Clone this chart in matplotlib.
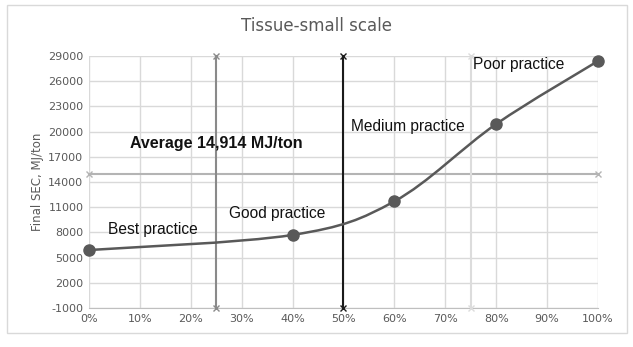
import numpy as np
import matplotlib.pyplot as plt
from matplotlib.path import Path
from matplotlib.patches import PathPatch, Rectangle

plt.rcParams['axes.unicode_minus'] = False

# data
share = [0, 40, 60, 80, 100]                 # percent of mills
sec = [5900, 7700, 11700, 20900, 28400]      # MJ/ton
average = 14914
cuts = [25, 50, 75]
cut_colors = ['#8a8a8a', '#1a1a1a', '#dcdcdc']
labels = ['Best practice', 'Good practice', 'Medium practice', 'Poor practice']
label_pos = [(3.7, 7800), (27.5, 9700), (51.5, 20100), (75.5, 27500)]
yticks = np.arange(-1000, 29001, 3000)
xticks = np.arange(0, 101, 10)

fig = plt.figure(figsize=(6.33, 3.47), dpi=100)
fig.patches.append(Rectangle((0.011, 0.04), 0.979, 0.945, transform=fig.transFigure,
                             fill=False, ec='#d9d9d9', lw=1))
ax = fig.add_axes([0.1406, 0.1124, 0.8041, 0.7262])

# smooth line like Excel (Catmull-Rom as cubic Bezier)
x = np.array(share, float)
y = np.array(sec, float)
verts = [(x[0], y[0])]
codes = [Path.MOVETO]
for i in range(len(x) - 1):
    p0 = np.array([x[max(i - 1, 0)], y[max(i - 1, 0)]])
    p1 = np.array([x[i], y[i]])
    p2 = np.array([x[i + 1], y[i + 1]])
    p3 = np.array([x[min(i + 2, len(x) - 1)], y[min(i + 2, len(x) - 1)]])
    c1 = p1 + (p2 - p0) / 6
    c2 = p2 - (p3 - p1) / 6
    verts += [tuple(c1), tuple(c2), tuple(p2)]
    codes += [Path.CURVE4] * 3
ax.add_patch(PathPatch(Path(verts, codes), fill=False, ec='#595959', lw=1.8, zorder=4))
ax.plot(share, sec, 'o', color='#595959', ms=8, zorder=5, clip_on=False)

ax.plot([0, 100], [average, average], '-x', color='#b4b4b4', lw=1.5, ms=5, zorder=3, clip_on=False)
for c, col in zip(cuts, cut_colors):
    ax.plot([c, c], [-1000, 29000], '-x', color=col, lw=1.5, ms=5, zorder=3, clip_on=False)

for t, (tx, ty) in zip(labels, label_pos):
    ax.text(tx, ty, t, fontsize=11.2, color='#111111', family='Liberation Sans', zorder=6)
ax.text(8, 18000, 'Average 14,914 MJ/ton', fontsize=11.5, fontweight='bold',
        color='#111111', family='Liberation Sans')

ax.set_xlim(0, 100)
ax.set_ylim(-1000, 29000)
ax.set_xticks(xticks)
ax.set_xticklabels([f'{v}%' for v in xticks])
ax.set_yticks(yticks)
ax.grid(True, color='#d9d9d9', lw=1)
ax.set_axisbelow(True)
ax.tick_params(length=0, labelsize=8, colors='#595959', pad=4)
for s in ax.spines.values():
    s.set_visible(False)
ax.spines['bottom'].set_visible(True)
ax.spines['bottom'].set_color('#bfbfbf')
ax.set_ylabel('Final SEC, MJ/ton', fontsize=8.5, color='#595959', labelpad=3)
fig.text(0.5, 0.925, 'Tissue-small scale', ha='center', va='center', fontsize=12, color='#595959')

fig.savefig('out.png', dpi=100)
